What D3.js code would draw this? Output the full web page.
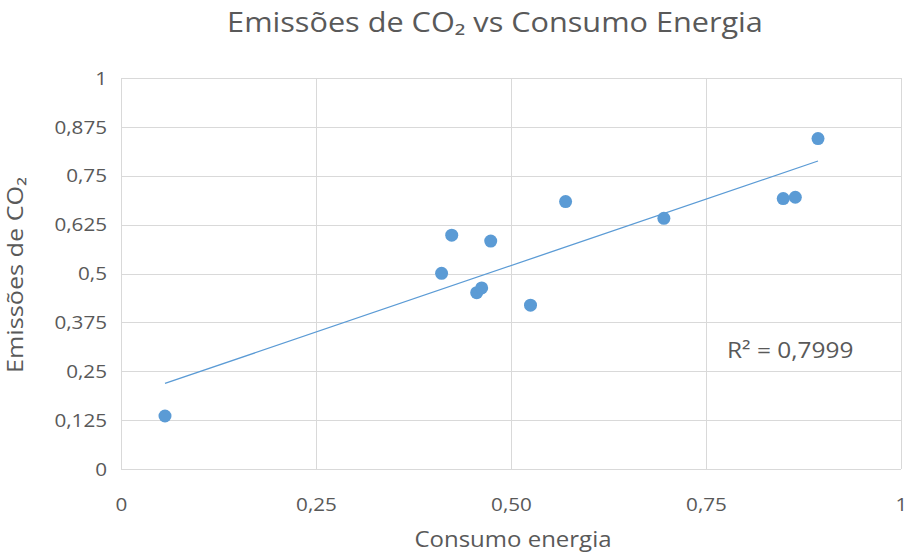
<!DOCTYPE html>
<html><head><meta charset="utf-8">
<script src="https://cdn.jsdelivr.net/npm/d3@7/dist/d3.min.js"></script>
<style>
body{margin:0;background:#fff;}
text{font-family:"Open Sans","Noto Sans",sans-serif;fill:#595959;}
</style></head>
<body><svg id="c" width="906" height="556"></svg>
<script>
const consumo = [0.0564,0.411,0.424,0.474,0.456,0.4624,0.525,0.570,0.696,0.849,0.8645,0.8936];
const emissoes = [0.1355,0.5005,0.598,0.583,0.451,0.463,0.419,0.684,0.641,0.6915,0.695,0.845];
const xTicks = [0,0.25,0.5,0.75,1];
const xTickLabels = ["0","0,25","0,50","0,75","1"];
const yTicks = [0,0.125,0.25,0.375,0.5,0.625,0.75,0.875,1];
const yTickLabels = ["0","0,125","0,25","0,375","0,5","0,625","0,75","0,875","1"];
const r2Label = "R² = 0,7999";
const FONT = '"Open Sans","Noto Sans",sans-serif';

const svg = d3.select("#c");
const x = d3.scaleLinear().domain([0,1]).range([121,901]);
const y = d3.scaleLinear().domain([0,1]).range([469,78]);

function stretch(sel, k){
  sel.each(function(){
    const w = this.getComputedTextLength();
    d3.select(this).attr("textLength", w*k).attr("lengthAdjust","spacingAndGlyphs");
  });
}

// gridlines
svg.append("g").selectAll("line").data(yTicks).join("line")
  .attr("x1",x(0)).attr("x2",x(1)).attr("y1",d=>Math.round(y(d))+0.5).attr("y2",d=>Math.round(y(d))+0.5)
  .attr("stroke","#d9d9d9").attr("stroke-width",1);
svg.append("g").selectAll("line").data(xTicks).join("line")
  .attr("y1",y(0)).attr("y2",y(1)).attr("x1",d=>Math.round(x(d))+0.5).attr("x2",d=>Math.round(x(d))+0.5)
  .attr("stroke","#d9d9d9").attr("stroke-width",1);

// axes tick labels
const xAxis = d3.axisBottom(x).tickValues(xTicks).tickFormat((d,i)=>xTickLabels[i]).tickSize(0).tickPadding(0);
const gx = svg.append("g").attr("transform",`translate(0,${y(0)})`).call(xAxis);
gx.select(".domain").remove();
gx.selectAll("text").attr("dy",null).attr("y",42).style("font-size","17.5px").style("font-family",FONT).attr("fill","#595959");
stretch(gx.selectAll("text"),1.18);

const yAxis = d3.axisLeft(y).tickValues(yTicks).tickFormat((d,i)=>yTickLabels[i]).tickSize(0).tickPadding(0);
const gy = svg.append("g").attr("transform",`translate(107,0)`).call(yAxis);
gy.select(".domain").remove();
gy.selectAll("text").attr("x",0).attr("dy","0.35em").style("font-size","17.5px").style("font-family",FONT).attr("fill","#595959");
stretch(gy.selectAll("text"),1.18);

// trendline (least squares)
const n = consumo.length;
const mx = d3.mean(consumo), my = d3.mean(emissoes);
let sxy=0,sxx=0;
for(let i=0;i<n;i++){sxy+=(consumo[i]-mx)*(emissoes[i]-my);sxx+=(consumo[i]-mx)**2;}
const b = sxy/sxx, a = my-b*mx;
const [x0,x1] = d3.extent(consumo);
svg.append("line").attr("x1",x(x0)).attr("y1",y(a+b*x0)).attr("x2",x(x1)).attr("y2",y(a+b*x1))
  .attr("stroke","#5b9bd5").attr("stroke-width",1.3);

// points
svg.append("g").selectAll("circle").data(consumo).join("circle")
  .attr("cx",d=>x(d)).attr("cy",(d,i)=>y(emissoes[i])).attr("r",6.5).attr("fill","#5b9bd5");

// labels
stretch(svg.append("text").attr("x",727).attr("y",358)
  .style("font-size","22px").text(r2Label),1.11);
stretch(svg.append("text").attr("x",495).attr("y",32).attr("text-anchor","middle")
  .style("font-size","27px").text("Emissões de CO₂ vs Consumo Energia"),1.135);
stretch(svg.append("text").attr("x",513).attr("y",547).attr("text-anchor","middle")
  .style("font-size","22px").text("Consumo energia"),1.09);
stretch(svg.append("text").attr("transform","translate(23,275) rotate(-90)").attr("text-anchor","middle")
  .style("font-size","21px").text("Emissões de CO₂"),1.2);
</script></body></html>
